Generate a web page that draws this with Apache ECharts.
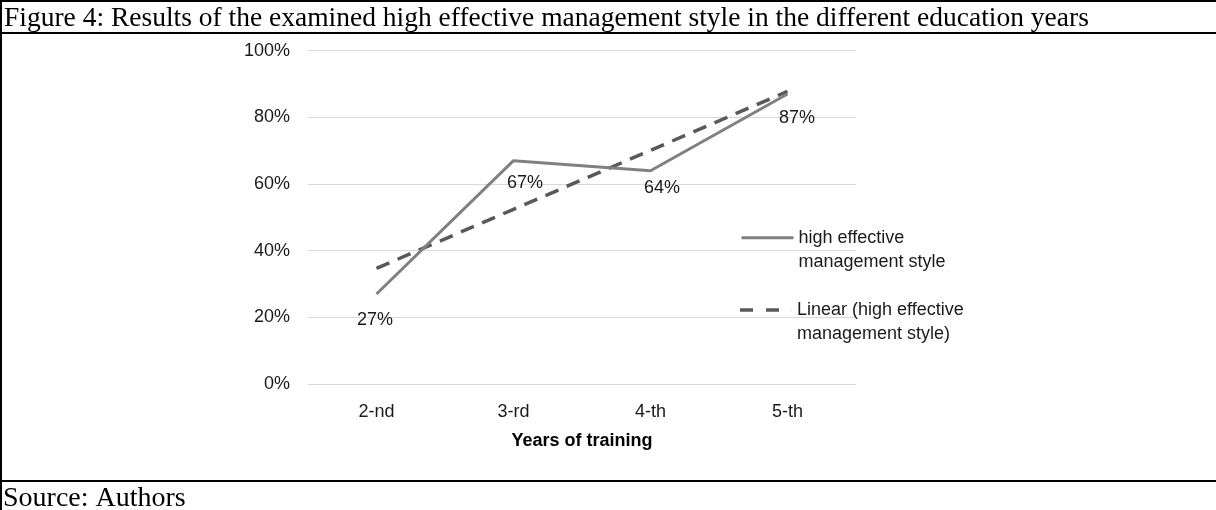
<!DOCTYPE html>
<html>
<head>
<meta charset="utf-8">
<script src="https://cdn.jsdelivr.net/npm/echarts@6/dist/echarts.min.js"></script>
<style>
html,body{margin:0;padding:0;background:#fff;}
#chart{width:1216px;height:510px;}
</style>
</head>
<body>
<div id="chart"></div>
<script>
// ---- data ----
const categories = ['2-nd', '3-rd', '4-th', '5-th'];
const highEffective = [27, 67, 64, 87];
const linearTrend = [34.7, 52.4, 70.1, 87.8];
const yTicks = [0, 20, 40, 60, 80, 100];
const seriesNames = ['high effective\nmanagement style', 'Linear (high effective\nmanagement style)'];
const figureTitle = 'Figure 4: Results of the examined high effective management style in the different education years';
const sourceText = 'Source: Authors';
const xAxisName = 'Years of training';

// label offsets (style only)
const labelOffsets = [[-1, 27], [12, 23], [12, 18], [10, 25]];

const chart = echarts.init(document.getElementById('chart'), null, {renderer: 'canvas'});
const sans = '"Liberation Sans", Arial, sans-serif';
const serif = '"Liberation Serif", "Times New Roman", serif';

const legendText = {fontFamily: sans, fontSize: 18, color: '#1a1a1a', lineHeight: 24};
const legendBase = {
  orient: 'vertical',
  left: 740,
  padding: 0,
  itemGap: 0,
  itemWidth: 52,
  selectedMode: false,
  textStyle: legendText,
  formatter: name => ' \n' + name
};

const option = {
  backgroundColor: '#fff',
  animation: false,
  grid: {left: 308, right: 360, top: 50.7, bottom: 126, containLabel: false},
  xAxis: {
    type: 'category',
    data: categories,
    boundaryGap: true,
    axisLine: {show: false},
    axisTick: {show: false},
    axisLabel: {fontFamily: sans, fontSize: 18, color: '#1a1a1a', margin: 19},
    name: xAxisName,
    nameLocation: 'middle',
    nameGap: 48,
    nameTextStyle: {fontFamily: sans, fontSize: 18, fontWeight: 'bold', color: '#000'}
  },
  yAxis: {
    type: 'value',
    min: yTicks[0],
    max: yTicks[yTicks.length - 1],
    interval: yTicks[1] - yTicks[0],
    axisLine: {show: false},
    axisTick: {show: false},
    splitLine: {lineStyle: {color: '#d9d9d9', width: 1}},
    axisLabel: {fontFamily: sans, fontSize: 18, color: '#1a1a1a', margin: 18, formatter: '{value}%'}
  },
  legend: [
    Object.assign({}, legendBase, {
      top: 201.7,
      itemHeight: 14,
      itemStyle: {opacity: 0},
      lineStyle: {color: '#808080', width: 3},
      data: [{name: seriesNames[0]}]
    }),
    Object.assign({}, legendBase, {
      top: 274,
      itemHeight: 3.5,
      icon: 'path://M0,0h13v3.5h-13zM26,0h13v3.5h-13zM51.9,0h0.1v3.5h-0.1z',
      itemStyle: {color: '#595959', opacity: 1},
      data: [{name: seriesNames[1]}]
    })
  ],
  series: [
    {
      name: seriesNames[0],
      type: 'line',
      data: highEffective,
      symbol: 'circle',
      symbolSize: 1,
      showSymbol: true,
      itemStyle: {color: 'rgba(0,0,0,0)'},
      lineStyle: {color: '#808080', width: 3},
      label: {
        show: true,
        formatter: p => p.value + '%',
        fontFamily: sans, fontSize: 18, color: '#1a1a1a',
        align: 'center', verticalAlign: 'middle'
      },
      z: 3
    },
    {
      name: seriesNames[1],
      type: 'line',
      data: linearTrend,
      symbol: 'none',
      itemStyle: {color: '#595959'},
      lineStyle: {color: '#595959', width: 3.5, type: [14, 9], cap: 'butt'},
      z: 2
    }
  ],
  graphic: [
    {type: 'line', shape: {x1: 0, y1: 1, x2: 1216, y2: 1}, style: {stroke: '#000', lineWidth: 2}},
    {type: 'line', shape: {x1: 1, y1: 0, x2: 1, y2: 510}, style: {stroke: '#000', lineWidth: 2}},
    {type: 'line', shape: {x1: 0, y1: 33, x2: 1216, y2: 33}, style: {stroke: '#000', lineWidth: 2}},
    {type: 'line', shape: {x1: 0, y1: 481, x2: 1216, y2: 481}, style: {stroke: '#000', lineWidth: 2}},
    {type: 'text', left: 4, top: 5, style: {text: figureTitle, font: '27.5px ' + serif, fill: '#000'}},
    {type: 'text', left: 3, top: 485, style: {text: sourceText, font: '28px ' + serif, fill: '#000'}}
  ]
};

// per-point label offsets
option.series[0].data = highEffective.map((v, i) => ({
  value: v,
  label: {position: labelOffsets[i]}
}));

chart.setOption(option);
</script>
</body>
</html>
